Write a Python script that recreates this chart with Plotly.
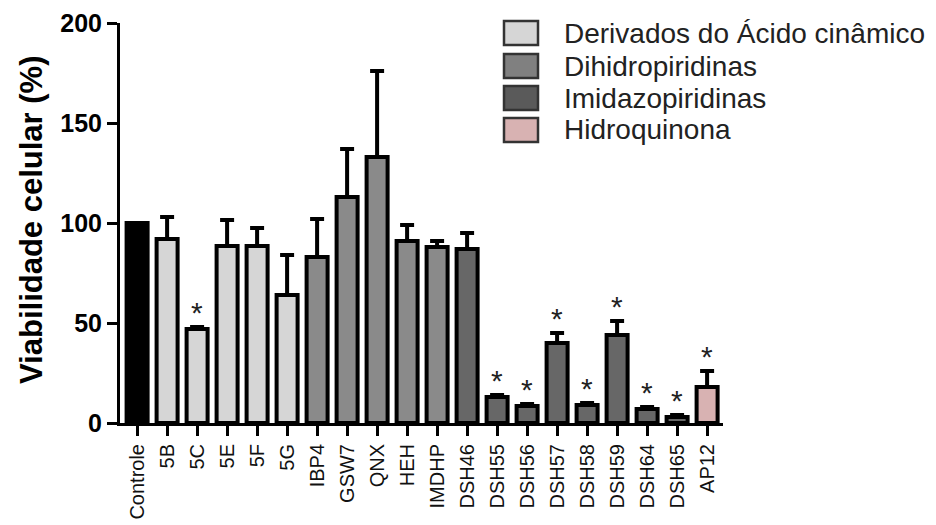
import plotly.graph_objects as go

categories = ["Controle", "5B", "5C", "5E", "5F", "5G", "IBP4", "GSW7", "QNX", "HEH",
              "IMDHP", "DSH46", "DSH55", "DSH56", "DSH57", "DSH58", "DSH59", "DSH64", "DSH65", "AP12"]
values = [100, 92, 47, 88.5, 88.5, 64, 83, 113, 133, 91,
          88, 87, 13, 8.5, 40, 9, 44, 7, 3, 18]
errors = [0, 11, 1, 13, 9, 20, 19, 24, 43, 8,
          3, 8, 1, 1, 5, 1, 7, 1, 1, 8]
groups = ["Controle", "Derivados do Ácido cinâmico", "Derivados do Ácido cinâmico",
          "Derivados do Ácido cinâmico", "Derivados do Ácido cinâmico", "Derivados do Ácido cinâmico",
          "Dihidropiridinas", "Dihidropiridinas", "Dihidropiridinas", "Dihidropiridinas",
          "Dihidropiridinas", "Imidazopiridinas", "Imidazopiridinas", "Imidazopiridinas",
          "Imidazopiridinas", "Imidazopiridinas", "Imidazopiridinas", "Imidazopiridinas",
          "Imidazopiridinas", "Hidroquinona"]
significant = ["5C", "DSH55", "DSH56", "DSH57", "DSH58", "DSH59", "DSH64", "DSH65", "AP12"]
legend_groups = ["Derivados do Ácido cinâmico", "Dihidropiridinas", "Imidazopiridinas", "Hidroquinona"]
group_colors = {
    "Controle": "#000000",
    "Derivados do Ácido cinâmico": "#d6d6d6",
    "Dihidropiridinas": "#8a8a8a",
    "Imidazopiridinas": "#676767",
    "Hidroquinona": "#d8b2b2",
}
legend_box_colors = {
    "Derivados do Ácido cinâmico": "#d6d6d6",
    "Dihidropiridinas": "#808080",
    "Imidazopiridinas": "#5a5a5a",
    "Hidroquinona": "#d8b2b2",
}

W, H = 936, 525
OFF = 8  # default page body margin
L, R, T, B = 120 - OFF, 213 + OFF, 23 - OFF, 102 + OFF
FONT = "Arial, Liberation Sans, sans-serif"

fig = go.Figure()
for g in ["Controle"] + legend_groups:
    idx = [i for i, gg in enumerate(groups) if gg == g]
    fig.add_trace(go.Bar(
        x=[categories[i] for i in idx],
        y=[values[i] for i in idx],
        name=g,
        width=0.7,
        marker=dict(color=group_colors[g], line=dict(color="black", width=4)),
        error_y=dict(type="data", symmetric=False,
                     array=[errors[i] for i in idx],
                     arrayminus=[0 for _ in idx],
                     color="black", thickness=4, width=7, visible=True),
        showlegend=False,
    ))

# significance asterisks
for c in significant:
    i = categories.index(c)
    fig.add_annotation(x=c, y=values[i] + errors[i], xref="x", yref="y",
                       text="*", showarrow=False, yanchor="bottom", yshift=-4,
                       font=dict(family=FONT, size=30, color="#222"))

def px_x(p):
    # p: page pixel -> paper coordinate
    return (p - OFF - L) / (W - L - R)

def px_y(p):
    return (H - B - (p - OFF)) / (H - T - B)

# custom legend
row_y = [33, 66, 98, 130]
for g, yc in zip(legend_groups, row_y):
    fig.add_shape(type="rect", xref="paper", yref="paper",
                  x0=px_x(504), x1=px_x(538), y0=px_y(yc - 12), y1=px_y(yc + 12),
                  fillcolor=legend_box_colors[g], line=dict(color="#333", width=2.5))
    fig.add_annotation(xref="paper", yref="paper", x=px_x(562), y=px_y(yc),
                       text=g, showarrow=False, xanchor="left", yanchor="middle",
                       font=dict(family=FONT, size=28, color="#222"))

# y-axis title
fig.add_annotation(xref="paper", yref="paper", x=px_x(31), y=px_y(220),
                   text="<b>Viabilidade celular (%)</b>", textangle=-90, showarrow=False,
                   xanchor="center", yanchor="middle",
                   font=dict(family=FONT, size=31, color="black"))

fig.update_layout(
    width=W, height=H,
    margin=dict(l=L, r=R, t=T, b=B, pad=0, autoexpand=False),
    plot_bgcolor="white", paper_bgcolor="white",
    bargap=0.3,
    font=dict(family=FONT, color="black"),
)
fig.update_xaxes(
    type="category", categoryorder="array", categoryarray=categories,
    range=[-0.57, 19.53], automargin=False,
    showline=True, linecolor="black", linewidth=3,
    ticks="outside", ticklen=10, tickwidth=3, tickcolor="black",
    tickangle=-90, tickfont=dict(family=FONT, size=20, color="#111"),
    showgrid=False, zeroline=False,
)
fig.update_yaxes(
    range=[0, 200], tickvals=[0, 50, 100, 150, 200], automargin=False,
    ticktext=["<b>0</b>", "<b>50</b>", "<b>100</b>", "<b>150</b>", "<b>200</b>"],
    showline=True, linecolor="black", linewidth=3,
    ticks="outside", ticklen=10, tickwidth=3, tickcolor="black",
    tickfont=dict(family=FONT, size=25, color="black"),
    showgrid=False, zeroline=False,
)

fig.write_html("out.html")
